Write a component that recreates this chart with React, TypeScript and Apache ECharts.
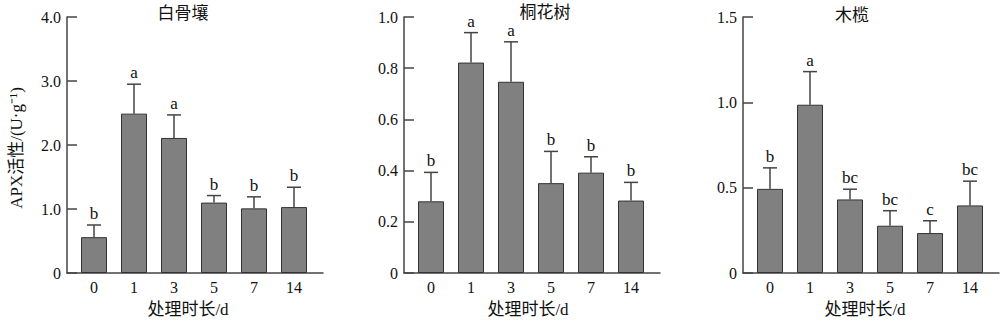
import React, { useEffect, useRef } from "react";
import * as echarts from "echarts";

const categories = ["0", "1", "3", "5", "7", "14"];

const bgrTitle = "白骨壤";
const bgrMean = [0.56, 2.49, 2.11, 1.1, 1.01, 1.03];
const bgrSD = [0.19, 0.46, 0.36, 0.11, 0.18, 0.31];
const bgrLetters = ["b", "a", "a", "b", "b", "b"];

const thsTitle = "桐花树";
const thsMean = [0.28, 0.822, 0.747, 0.351, 0.392, 0.283];
const thsSD = [0.113, 0.117, 0.156, 0.124, 0.062, 0.071];
const thsLetters = ["b", "a", "a", "b", "b", "b"];

const mlTitle = "木榄";
const mlMean = [0.493, 0.986, 0.431, 0.277, 0.234, 0.396];
const mlSD = [0.123, 0.194, 0.06, 0.088, 0.072, 0.142];
const mlLetters = ["b", "a", "bc", "bc", "c", "bc"];

const yMax = [4, 1, 1.5];
const yInterval = [1, 0.2, 0.5];

const xName = "处理时长/d";
const yName = "APX活性/(U·g⁻¹)";

const FONT = '"Liberation Serif", "Noto Sans CJK SC", serif';
const AXIS = "#444";

export default function App() {
  const ref = useRef<HTMLDivElement>(null);
  useEffect(() => {
    document.body.style.margin = "0";
    if (!ref.current) return;
    const chart = echarts.init(ref.current, undefined, { renderer: "svg" });
    const panels = [
      { title: bgrTitle, mean: bgrMean, sd: bgrSD, letters: bgrLetters },
      { title: thsTitle, mean: thsMean, sd: thsSD, letters: thsLetters },
      { title: mlTitle, mean: mlMean, sd: mlSD, letters: mlLetters },
    ];
    const lefts = [67, 404, 743];
    const gridW = 256;
    const titleX = [183, 545, 852];
    const titleY = [13, 12, 15];
    const xNameX = [188, 528, 865];

    const grid = lefts.map((l) => ({ left: l, top: 17, width: gridW, height: 256 }));
    const xAxis = panels.map((_, i) => ({
      type: "value",
      gridIndex: i,
      min: -0.675,
      max: 5.725,
      splitLine: { show: false },
      axisLine: { show: true, onZero: false, lineStyle: { color: AXIS, width: 1.5 } },
      axisTick: { show: false },
      axisLabel: {
        customValues: [0, 1, 2, 3, 4, 5],
        formatter: (v: number) => categories[Math.round(v)] ?? "",
        fontFamily: FONT,
        fontSize: 16,
        color: "#111",
        margin: 6,
      },
    }));
    const yAxis = panels.map((_, i) => ({
      type: "value",
      gridIndex: i,
      min: 0,
      max: yMax[i],
      interval: yInterval[i],
      splitLine: { show: false },
      axisLine: { show: true, onZero: false, lineStyle: { color: AXIS, width: 1.5 } },
      axisTick: { show: true, inside: true, length: 10, lineStyle: { color: AXIS, width: 1.5 } },
      axisLabel: {
        formatter: (v: number) => (v === 0 ? "0" : v.toFixed(1)),
        fontFamily: FONT,
        fontSize: 16,
        color: "#111",
        margin: 6,
      },
    }));
    const series: any[] = [];
    panels.forEach((p, i) => {
      series.push({
        type: "bar",
        xAxisIndex: i,
        yAxisIndex: i,
        barWidth: 26,
        data: p.mean.map((v, k) => [k, v]),
        itemStyle: { color: "#808080", borderColor: "#333", borderWidth: 1 },
      });
      series.push({
        type: "custom",
        xAxisIndex: i,
        yAxisIndex: i,
        data: p.mean.map((v, k) => [k, v, v + p.sd[k]]),
        renderItem: (params: any, api: any) => {
          const x = api.value(0);
          const p0 = api.coord([x, api.value(1)]);
          const p1 = api.coord([x, api.value(2)]);
          const hw = 7;
          const st = { stroke: AXIS, lineWidth: 1.5 };
          return {
            type: "group",
            children: [
              { type: "line", shape: { x1: p0[0], y1: p0[1], x2: p1[0], y2: p1[1] }, style: st },
              { type: "line", shape: { x1: p1[0] - hw, y1: p1[1], x2: p1[0] + hw, y2: p1[1] }, style: st },
              {
                type: "text",
                x: p1[0],
                y: p1[1] - 3,
                style: {
                  text: p.letters[params.dataIndex],
                  textAlign: "center",
                  textVerticalAlign: "bottom",
                  fontFamily: FONT,
                  fontSize: 17,
                  fill: "#111",
                },
              },
            ],
          };
        },
      });
    });
    const graphic: any[] = [];
    panels.forEach((p, i) => {
      graphic.push({
        type: "text",
        x: titleX[i],
        y: titleY[i],
        style: { text: p.title, textAlign: "center", textVerticalAlign: "middle", fontFamily: FONT, fontSize: 17, fill: "#111" },
      });
      graphic.push({
        type: "text",
        x: xNameX[i],
        y: 309,
        style: { text: xName, textAlign: "center", textVerticalAlign: "middle", fontFamily: FONT, fontSize: 17, fill: "#111" },
      });
    });
    graphic.push({
      type: "text",
      x: 16,
      y: 148,
      rotation: Math.PI / 2,
      style: { text: yName, textAlign: "center", textVerticalAlign: "middle", fontFamily: FONT, fontSize: 17, fill: "#111" },
    });
    chart.setOption({ animation: false, grid, xAxis, yAxis, series, graphic });
    return () => chart.dispose();
  }, []);
  return <div ref={ref} style={{ width: 1000, height: 321 }} />;
}
